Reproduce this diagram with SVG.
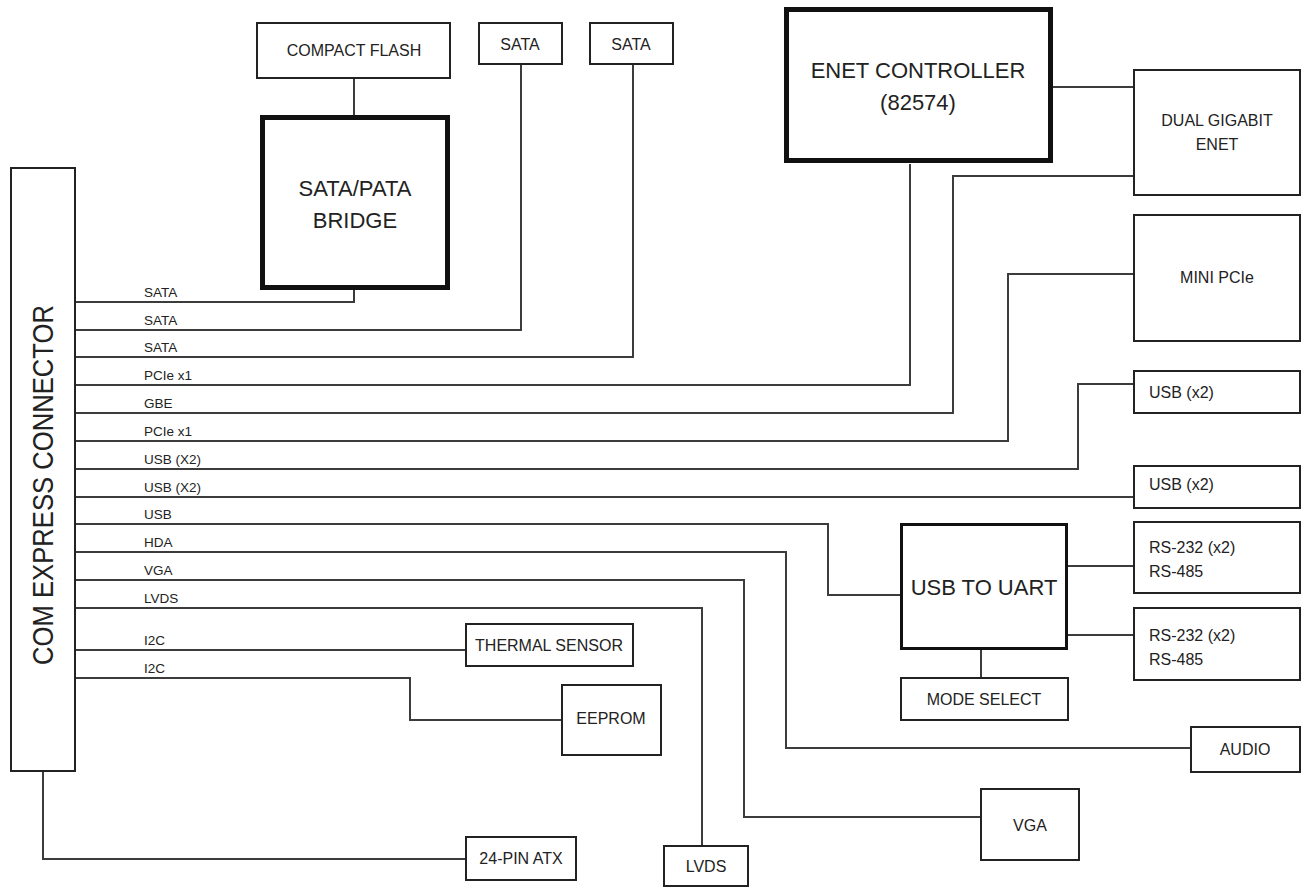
<svg xmlns="http://www.w3.org/2000/svg" width="1302" height="888" viewBox="0 0 1302 888">
<style>
.box{fill:#fff;stroke:#222;stroke-width:2}
.thick{fill:#fff;stroke:#111;stroke-width:5}
.mid{fill:#fff;stroke:#111;stroke-width:3}
.wire{fill:none;stroke:#3c3c3c;stroke-width:2}
text{font-family:"Liberation Sans",Arial,sans-serif;fill:#222}
.t16{font-size:16px;text-anchor:middle}
.t16l{font-size:16px}
.big{font-size:22px;text-anchor:middle}
.sig{font-size:13.5px}
</style>
<rect width="1302" height="888" fill="#fff"/>
<g id="connectors">
<path class="wire" d="M75 302H354V290"/>
<path class="wire" d="M75 330H521V64"/>
<path class="wire" d="M75 357H633V64"/>
<path class="wire" d="M75 385H910V164"/>
<path class="wire" d="M75 413H953V176H1134"/>
<path class="wire" d="M75 441H1008V274H1134"/>
<path class="wire" d="M75 469H1078V384H1134"/>
<path class="wire" d="M75 497H1134"/>
<path class="wire" d="M75 524H828V595H900"/>
<path class="wire" d="M75 552H786V748H1191"/>
<path class="wire" d="M75 580H744V817H981"/>
<path class="wire" d="M75 608H702V846"/>
<path class="wire" d="M75 650H466"/>
<path class="wire" d="M75 678H410V720H562"/>
<path class="wire" d="M43 772V859H466"/>
<path class="wire" d="M354 78V115"/>
<path class="wire" d="M1053 87H1134"/>
<path class="wire" d="M1068 566H1134"/>
<path class="wire" d="M1068 635H1134"/>
<path class="wire" d="M981 650V678"/>
<text class="sig" x="144" y="297">SATA</text>
<text class="sig" x="144" y="325">SATA</text>
<text class="sig" x="144" y="352">SATA</text>
<text class="sig" x="144" y="380">PCIe x1</text>
<text class="sig" x="144" y="408">GBE</text>
<text class="sig" x="144" y="436">PCIe x1</text>
<text class="sig" x="144" y="464">USB (X2)</text>
<text class="sig" x="144" y="492">USB (X2)</text>
<text class="sig" x="144" y="519">USB</text>
<text class="sig" x="144" y="547">HDA</text>
<text class="sig" x="144" y="575">VGA</text>
<text class="sig" x="144" y="603">LVDS</text>
<text class="sig" x="144" y="645">I2C</text>
<text class="sig" x="144" y="673">I2C</text>
</g>
<g id="com-express">
<rect class="box" x="11" y="168" width="64" height="603" stroke-width="2.5"/>
<text x="0" y="0" transform="translate(53 665) rotate(-90)" font-size="30" textLength="360" lengthAdjust="spacingAndGlyphs">COM EXPRESS CONNECTOR</text>
</g>
<g id="compact-flash">
<rect class="box" x="257" y="23" width="193" height="55"/>
<text class="t16" x="354" y="56">COMPACT FLASH</text>
</g>
<g id="sata-a">
<rect class="box" x="479" y="23" width="83" height="41"/>
<text class="t16" x="520" y="50">SATA</text>
</g>
<g id="sata-b">
<rect class="box" x="590" y="23" width="83" height="41"/>
<text class="t16" x="631" y="50">SATA</text>
</g>
<g id="bridge">
<rect class="thick" x="262.5" y="117.5" width="185" height="170"/>
<text class="big" x="355" y="196">SATA/PATA</text>
<text class="big" x="355" y="228">BRIDGE</text>
</g>
<g id="enet-controller">
<rect class="thick" x="786.5" y="9.5" width="264" height="151"/>
<text class="big" x="918" y="78" font-size="23">ENET CONTROLLER</text>
<text class="big" x="918" y="110" font-size="23">(82574)</text>
</g>
<g id="dual-gigabit">
<rect class="box" x="1134" y="70" width="166" height="125"/>
<text class="t16" x="1217" y="126">DUAL GIGABIT</text>
<text class="t16" x="1217" y="150">ENET</text>
</g>
<g id="mini-pcie">
<rect class="box" x="1134" y="215" width="166" height="126"/>
<text class="t16" x="1217" y="283">MINI PCIe</text>
</g>
<g id="usb-a">
<rect class="box" x="1134" y="371" width="166" height="42"/>
<text class="t16l" x="1149" y="398">USB (x2)</text>
</g>
<g id="usb-b">
<rect class="box" x="1134" y="466" width="166" height="42"/>
<text class="t16l" x="1149" y="490">USB (x2)</text>
</g>
<g id="usb-uart">
<rect class="mid" x="901.5" y="524.5" width="165" height="124"/>
<text class="big" x="984" y="595">USB TO UART</text>
</g>
<g id="rs-a">
<rect class="box" x="1134" y="522" width="166" height="71"/>
<text class="t16l" x="1149" y="553">RS-232 (x2)</text>
<text class="t16l" x="1149" y="577">RS-485</text>
</g>
<g id="rs-b">
<rect class="box" x="1134" y="608" width="166" height="72"/>
<text class="t16l" x="1149" y="641">RS-232 (x2)</text>
<text class="t16l" x="1149" y="665">RS-485</text>
</g>
<g id="mode-select">
<rect class="box" x="901" y="678" width="167" height="42"/>
<text class="t16" x="984" y="705">MODE SELECT</text>
</g>
<g id="thermal">
<rect class="box" x="466" y="624" width="167" height="42"/>
<text class="t16" x="549" y="651">THERMAL SENSOR</text>
</g>
<g id="eeprom">
<rect class="box" x="562" y="685" width="99" height="70"/>
<text class="t16" x="611" y="724">EEPROM</text>
</g>
<g id="audio">
<rect class="box" x="1191" y="727" width="109" height="45"/>
<text class="t16" x="1245" y="755">AUDIO</text>
</g>
<g id="vga">
<rect class="box" x="981" y="789" width="98" height="71"/>
<text class="t16" x="1030" y="831">VGA</text>
</g>
<g id="lvds">
<rect class="box" x="664" y="846" width="84" height="40"/>
<text class="t16" x="706" y="872">LVDS</text>
</g>
<g id="atx">
<rect class="box" x="466" y="837" width="110" height="43"/>
<text class="t16" x="521" y="864">24-PIN ATX</text>
</g>
</svg>
